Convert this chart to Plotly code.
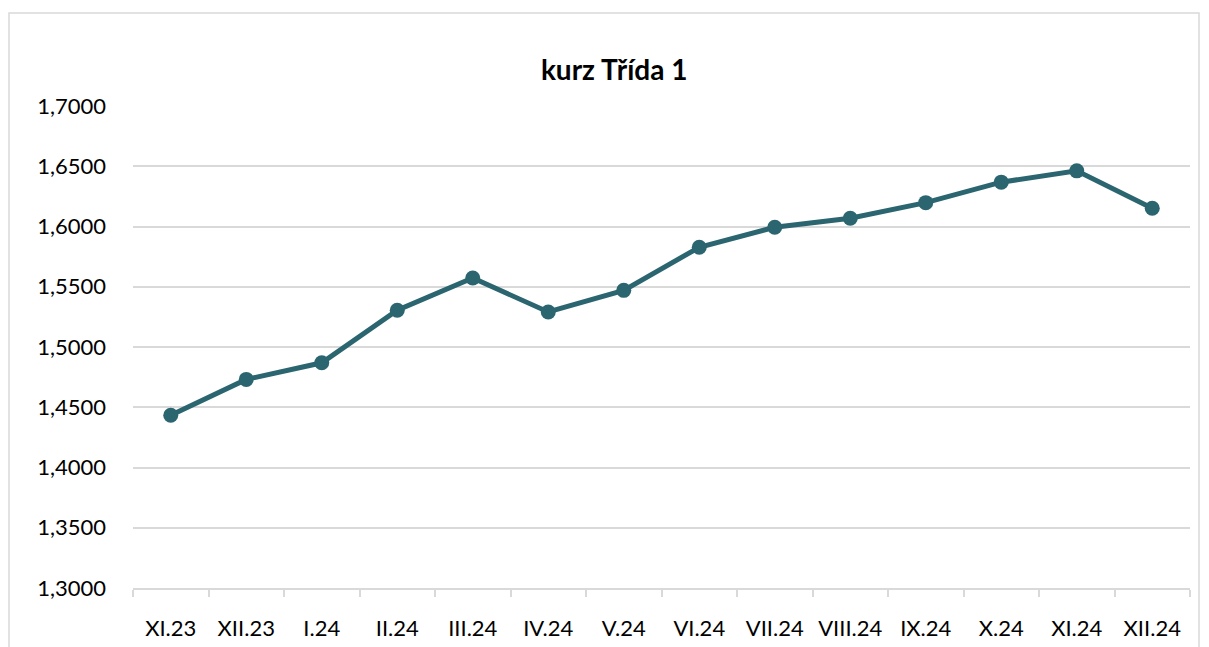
import plotly.graph_objects as go

months = ["XI.23", "XII.23", "I.24", "II.24", "III.24", "IV.24", "V.24",
          "VI.24", "VII.24", "VIII.24", "IX.24", "X.24", "XI.24", "XII.24"]
kurz = [1.4434, 1.4731, 1.4869, 1.5305, 1.5572, 1.5291, 1.5470,
        1.5828, 1.5994, 1.6069, 1.6198, 1.6368, 1.6462, 1.6151]

color = "#2B6570"
font = "Lato"

fig = go.Figure()
fig.add_trace(go.Scatter(
    x=months, y=kurz, mode="lines+markers",
    line=dict(color=color, width=5),
    marker=dict(color=color, size=15),
    showlegend=False,
))

fig.update_layout(
    width=1209, height=647,
    margin=dict(l=133, r=19, t=106, b=59),
    paper_bgcolor="white", plot_bgcolor="white",
    separators=", ",
    font=dict(family=font, size=22, color="#000000"),
    title=dict(text="<b>kurz Třída 1</b>", x=0.508, xanchor="center",
               y=1 - 70 / 647, yanchor="middle",
               font=dict(family=font, size=28, color="#000000")),
    xaxis=dict(
        type="category", showgrid=False, automargin=False,
        showline=True, linecolor="#d9d9d9", linewidth=1.5,
        ticks="outside", tickson="boundaries", ticklen=7,
        tickcolor="#d9d9d9", tickwidth=1.5,
        ticklabelstandoff=20,
        range=[-0.5, len(months) - 0.5],
    ),
    yaxis=dict(
        range=[1.3, 1.7], dtick=0.05, tick0=1.3, tickformat=".4f",
        showgrid=True, gridcolor="#d9d9d9", gridwidth=1.5, automargin=False,
        zeroline=False, showline=False, ticks="",
        ticklabelstandoff=26,
    ),
    shapes=[dict(
        type="rect", xref="paper", yref="paper",
        x0=(9 - 133) / 1057, x1=(1199 - 133) / 1057,
        y0=(588 - 660) / 482, y1=(588 - 13) / 482,
        line=dict(color="#d9d9d9", width=1.5), fillcolor="rgba(0,0,0,0)",
        layer="below",
    )],
)

fig.write_html(
    "out.html",
    config={"displayModeBar": False},
    post_script="document.body.style.margin='0';document.body.style.overflow='hidden';",
)
